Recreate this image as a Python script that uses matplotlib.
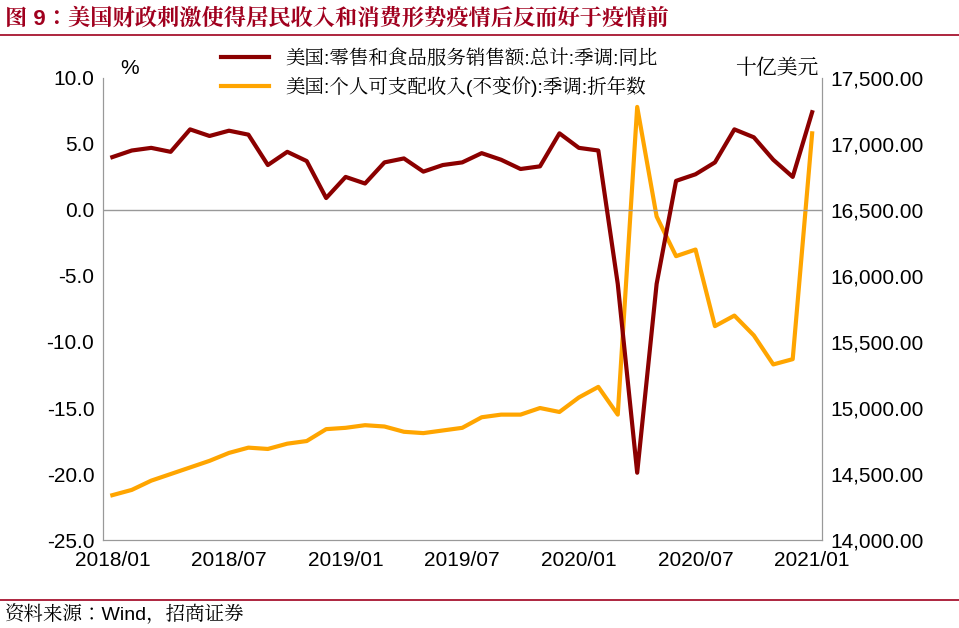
import numpy as np
import matplotlib.pyplot as plt
from matplotlib import font_manager

# find whichever CJK font is actually registered
cjk = [f.name for f in font_manager.fontManager.ttflist if 'CJK' in f.name]
cjk_name = next((n for n in cjk if 'SC' in n), cjk[0] if cjk else 'DejaVu Sans')
plt.rcParams['font.family'] = ['Liberation Sans', cjk_name, 'DejaVu Sans']

# --- data ---
months = ["2018/01", "2018/02", "2018/03", "2018/04", "2018/05", "2018/06", "2018/07", "2018/08", "2018/09",
          "2018/10", "2018/11", "2018/12", "2019/01", "2019/02", "2019/03", "2019/04", "2019/05", "2019/06",
          "2019/07", "2019/08", "2019/09", "2019/10", "2019/11", "2019/12", "2020/01", "2020/02", "2020/03",
          "2020/04", "2020/05", "2020/06", "2020/07", "2020/08", "2020/09", "2020/10", "2020/11", "2020/12",
          "2021/01"]
retail_yoy = [4.0, 4.5, 4.7, 4.4, 6.1, 5.6, 6.0, 5.7, 3.4, 4.4, 3.7, 0.9,
              2.5, 2.0, 3.6, 3.9, 2.9, 3.4, 3.6, 4.3, 3.8, 3.1, 3.3, 5.8,
              4.7, 4.5, -5.6, -19.9, -5.6, 2.2, 2.7, 3.6, 6.1, 5.5, 3.8, 2.5, 7.4]
income = [14340, 14380, 14450, 14500, 14550, 14600, 14660, 14700, 14690, 14730, 14750, 14840,
          14850, 14870, 14860, 14820, 14810, 14830, 14850, 14930, 14950, 14950, 15000, 14970,
          15080, 15160, 14950, 17280, 16450, 16150, 16200, 15620, 15700, 15550, 15330, 15370, 17080]
tick_labels = ["2018/01", "2018/07", "2019/01", "2019/07", "2020/01", "2020/07", "2021/01"]

red = '#8b0000'
orange = '#ffa500'
title_red = '#a0001e'

fig = plt.figure(figsize=(9.59, 6.28), dpi=100)
ax = fig.add_axes([0.107, 0.14, 0.75, 0.736])
ax2 = ax.twinx()

x = np.arange(len(months))
l1, = ax.plot(x, retail_yoy, color=red, lw=3, zorder=3)
l2, = ax2.plot(x, income, color=orange, lw=3)
ax.set_zorder(ax2.get_zorder() + 1)
ax.patch.set_visible(False)

ax.set_ylim(-25, 10)
ax.set_yticks(np.arange(-25, 10.1, 5))
ax.set_yticklabels([f"{v:.1f}" for v in np.arange(-25, 10.1, 5)])
ax2.set_ylim(14000, 17500)
ax2.set_yticks(np.arange(14000, 17501, 500))
ax2.set_yticklabels([f"{v:,.2f}" for v in np.arange(14000, 17501, 500)])
ax.set_xlim(-0.5, 36.5)
ax.set_xticks([months.index(t) for t in tick_labels])
ax.set_xticklabels(tick_labels)
ax.axhline(0, color='#999999', lw=1, zorder=1)

for a in (ax, ax2):
    a.spines['top'].set_visible(False)
    for s in ('left', 'right', 'bottom'):
        a.spines[s].set_color('#999999')
    a.tick_params(labelsize=15, length=0, pad=6)
ax.tick_params(axis='x', pad=8)

ax.text(0.025, 1.0, '%', transform=ax.transAxes, fontsize=15, va='bottom')
ax2.text(0.995, 1.0, '十亿美元', transform=ax.transAxes, fontsize=15, va='bottom', ha='right')

ax.legend([l1, l2], ['美国:零售和食品服务销售额:总计:季调:同比', '美国:个人可支配收入(不变价):季调:折年数'],
          loc='upper left', bbox_to_anchor=(0.14, 1.1), frameon=False, fontsize=14,
          handlelength=2.5, labelspacing=0.4)

fig.text(0.005, 0.97, '图 9：美国财政刺激使得居民收入和消费形势疫情后反而好于疫情前',
         fontsize=16, fontweight='bold', color=title_red, va='center')
fig.add_artist(plt.Line2D([0, 1], [0.945, 0.945], color=title_red, lw=1.2))
fig.add_artist(plt.Line2D([0, 1], [0.045, 0.045], color=title_red, lw=1.2))
fig.text(0.005, 0.022, '资料来源：Wind，招商证券', fontsize=14, va='center')

fig.savefig('out.png', dpi=100)
